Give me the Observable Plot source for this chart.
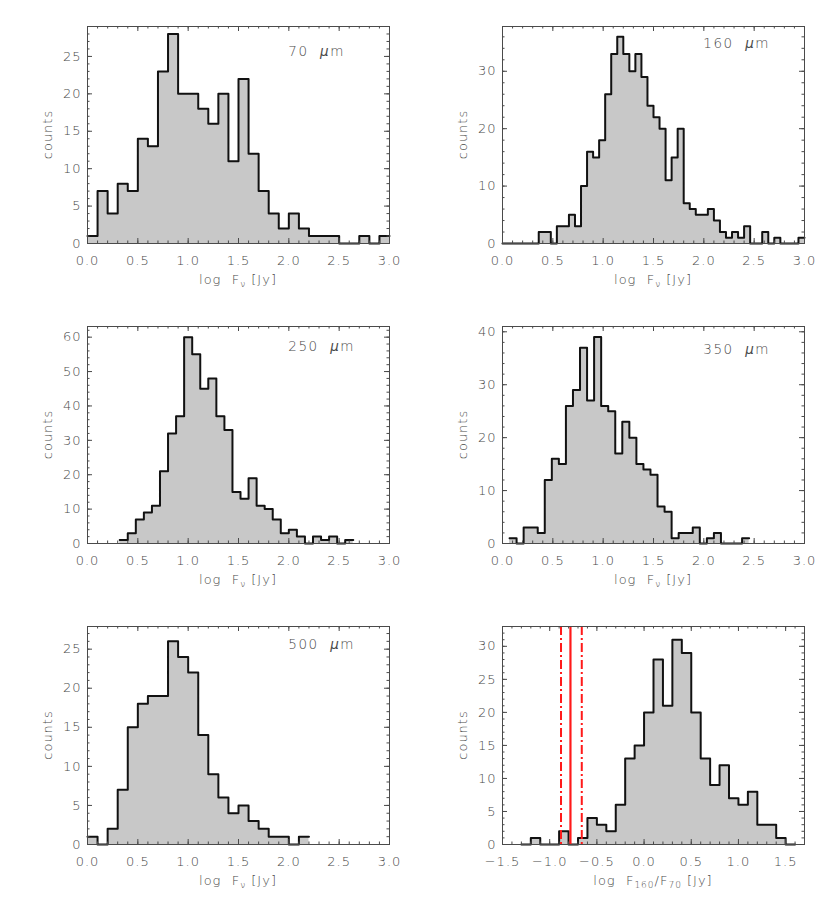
<!DOCTYPE html>
<html><head><meta charset="utf-8">
<script src="https://cdn.jsdelivr.net/npm/d3@7"></script>
<script src="https://cdn.jsdelivr.net/npm/@observablehq/plot@0.6"></script>
<style>
html,body{margin:0;padding:0;background:#fff;overflow:hidden}
#wrap{position:relative;width:830px;height:899px}
.panel{position:absolute;width:415px;height:300px}
</style></head><body><div id="wrap"></div>
<script>
// ---- histogram counts ----
const counts70  = [1,7,4,8,7,14,13,23,28,20,20,18,16,20,11,22,12,7,4,2,4,2,1,1,1,0,0,1,0,1];
const counts160 = [0,0,0,0,0,0,2,2,0,3,3,5,3,10,16,15,18,26,33,36,33,30,33,29,24,22,20,11,15,20,7,6,5,5,6,4,2,1,2,1,3,0,0,2,0,1,0,0,0,1];
const counts250 = [1,3,7,9,11,21,32,37,60,55,45,48,37,33,15,13,19,11,10,7,3,4,2,0,2,1,2,0,1];
const counts350 = [1,0,3,3,2,12,16,15,26,29,37,27,39,26,25,17,23,20,15,14,13,7,6,1,2,2,3,0,1,2,0,0,0,1];
const counts500 = [1,0,2,7,15,18,19,19,26,24,22,14,9,6,4,5,3,2,1,1,0,1];
const countsRatio = [0,1,0,0,2,0,1,4,3,2,6,13,15,20,28,21,31,29,20,13,9,12,7,6,8,3,3,1,0];
// bin starts / widths
const binStart = [0, 0, 0.32, 0.07, 0, -1.3];
const binWidth = [0.1, 0.06, 0.08, 0.07, 0.1, 0.1];
// panel labels
const bandLabels = ["70", "160", "250", "350", "500", null];
// red reference lines (log F160/F70)
const ratioCenter = [-0.78];
const ratioBounds = [-0.88, -0.66];
// tick values
const xTicksFlux  = [0, 0.5, 1.0, 1.5, 2.0, 2.5, 3.0];
const xTicksRatio = [-1.5, -1.0, -0.5, 0.0, 0.5, 1.0, 1.5];
const yTicks70  = [0, 5, 10, 15, 20, 25];
const yTicks160 = [0, 10, 20, 30];
const yTicks250 = [0, 10, 20, 30, 40, 50, 60];
const yTicks350 = [0, 10, 20, 30, 40];
const yTicks500 = [0, 5, 10, 15, 20, 25];
const yTicksRatio = [0, 5, 10, 15, 20, 25, 30];

const panels = [
  {counts: counts70,  start: binStart[0], width: binWidth[0], band: bandLabels[0], xDomain: [0, 3], yTop: 29.0, yMajor: yTicks70,  yMinorStep: 1, labelY: 25.0, xMajor: xTicksFlux, xlab: "nu"},
  {counts: counts160, start: binStart[1], width: binWidth[1], band: bandLabels[1], xDomain: [0, 3], yTop: 37.8, yMajor: yTicks160, yMinorStep: 2, labelY: 34.0, xMajor: xTicksFlux, xlab: "nu"},
  {counts: counts250, start: binStart[2], width: binWidth[2], band: bandLabels[2], xDomain: [0, 3], yTop: 63.1, yMajor: yTicks250, yMinorStep: 2, labelY: 55.8, xMajor: xTicksFlux, xlab: "nu"},
  {counts: counts350, start: binStart[3], width: binWidth[3], band: bandLabels[3], xDomain: [0, 3], yTop: 41.0, yMajor: yTicks350, yMinorStep: 2, labelY: 35.8, xMajor: xTicksFlux, xlab: "nu"},
  {counts: counts500, start: binStart[4], width: binWidth[4], band: bandLabels[4], xDomain: [0, 3], yTop: 27.9, yMajor: yTicks500, yMinorStep: 1, labelY: 25.0, xMajor: xTicksFlux, xlab: "nu"},
  {counts: countsRatio, start: binStart[5], width: binWidth[5], band: bandLabels[5], xDomain: [-1.5, 1.7], yTop: 33.0, yMajor: yTicksRatio, yMinorStep: 1, labelY: 0, xMajor: xTicksRatio, xlab: "ratio", red: true}
];

const FONT = "DejaVu Sans";
const INK = "#4a4a4a";
const W = 415, H = 300, mL = 87, mR = 26, mT = 26;
const MAJOR = 5, MINOR = 2.5; // tick lengths in px

function minorRange(lo, hi, step) {
  const n0 = Math.ceil(lo / step - 1e-9), n1 = Math.floor(hi / step + 1e-9);
  return d3.range(n0, n1 + 1).map(i => +(i * step).toFixed(6));
}

function makePanel(p, idx) {
  const col = idx % 2, row = Math.floor(idx / 2);
  const mB = row === 2 ? 56 : 57;
  const plotW = W - mL - mR, plotH = H - mT - mB;
  const steps = [];
  p.counts.forEach((c, i) => {
    const x0 = p.start + i * p.width;
    steps.push({x: x0, y: c}, {x: x0 + p.width, y: c});
  });
  const [x0d, x1d] = p.xDomain;
  const xMinor = minorRange(x0d, x1d, 0.1);
  const yMinor = minorRange(0, p.yTop, p.yMinorStep);
  // tick lengths expressed in data units of each scale
  const ly = (px) => px * p.yTop / plotH;
  const lx = (px) => px * (x1d - x0d) / plotW;
  const tick = {stroke: INK, strokeWidth: 1};
  const marks = [
    Plot.areaY(steps, {x: "x", y1: 0, y2: "y", fill: "#c8c8c8"}),
    Plot.line(steps, {x: "x", y: "y", stroke: "#111", strokeWidth: 2})
  ];
  if (p.red) {
    marks.push(Plot.ruleX(ratioBounds, {x: d => d, stroke: "#ff1a1a", strokeWidth: 2, strokeDasharray: "9,3,2,3"}));
    marks.push(Plot.ruleX(ratioCenter, {x: d => d, stroke: "#ff1a1a", strokeWidth: 2.2}));
  }
  const xTick = (vals, len) => [
    Plot.ruleX(vals, {x: d => d, y1: 0, y2: ly(len), ...tick}),
    Plot.ruleX(vals, {x: d => d, y1: p.yTop - ly(len), y2: p.yTop, ...tick})
  ];
  const yTick = (vals, len) => [
    Plot.ruleY(vals, {y: d => d, x1: x0d, x2: x0d + lx(len), ...tick}),
    Plot.ruleY(vals, {y: d => d, x1: x1d - lx(len), x2: x1d, ...tick})
  ];
  marks.push(
    ...xTick(xMinor, MINOR), ...xTick(p.xMajor, MAJOR),
    ...yTick(yMinor, MINOR), ...yTick(p.yMajor, MAJOR),
    Plot.frame({stroke: INK, strokeWidth: 1}),
    Plot.axisX({ticks: p.xMajor, anchor: "bottom", tickSize: 0, tickPadding: 12, tickFormat: d3.format(".1f"), label: null, color: INK, fontSize: 13}),
    Plot.axisY({ticks: p.yMajor, anchor: "left", tickSize: 0, tickPadding: 6, tickFormat: d3.format("d"), label: null, color: INK, fontSize: 13})
  );
  const chart = Plot.plot({
    width: W, height: H,
    marginLeft: mL, marginRight: mR, marginTop: mT, marginBottom: mB,
    x: {domain: p.xDomain},
    y: {domain: [0, p.yTop]},
    style: {fontFamily: FONT, fontSize: "13px", fontWeight: 200, letterSpacing: "1px", background: "white"},
    marks
  });
  const svg = d3.select(chart);
  const xs = chart.scale("x"), ys = chart.scale("y");
  const g = svg.append("g").attr("fill", INK).attr("font-family", FONT).attr("font-size", 13).attr("font-weight", 200).attr("letter-spacing", "1px");
  // band label
  if (p.band) {
    const t = g.append("text").attr("x", xs.apply(2.0)).attr("y", ys.apply(p.labelY)).attr("text-anchor", "start").attr("font-size", 13.5).attr("letter-spacing", "1.5px");
    t.append("tspan").text(p.band + "\u00a0\u00a0");
    t.append("tspan").attr("font-style", "italic").text("\u03bc");
    t.append("tspan").text("m");
  }
  // x label
  const cx = (mL + (W - mR)) / 2;
  const xl = g.append("text").attr("x", cx).attr("y", H - mB + 41).attr("text-anchor", "middle");
  if (p.xlab === "nu") {
    xl.append("tspan").text("log\u00a0\u00a0F");
    xl.append("tspan").attr("dy", 3).attr("font-size", 9).text("\u03bd");
    xl.append("tspan").attr("dy", -3).text("\u00a0[Jy]");
  } else {
    xl.append("tspan").text("log\u00a0\u00a0F");
    xl.append("tspan").attr("dy", 3).attr("font-size", 9).text("160");
    xl.append("tspan").attr("dy", -3).text("/F");
    xl.append("tspan").attr("dy", 3).attr("font-size", 9).text("70");
    xl.append("tspan").attr("dy", -3).text("\u00a0[Jy]");
  }
  // y label
  const cy = (mT + (H - mB)) / 2;
  g.append("text").attr("transform", `translate(52,${cy}) rotate(-90)`).attr("text-anchor", "middle").text("counts");

  const div = document.createElement("div");
  div.className = "panel";
  div.style.left = (col * 415) + "px";
  div.style.top = (row * 300) + "px";
  div.appendChild(chart);
  document.getElementById("wrap").appendChild(div);
}

panels.forEach(makePanel);
</script>
</body></html>
